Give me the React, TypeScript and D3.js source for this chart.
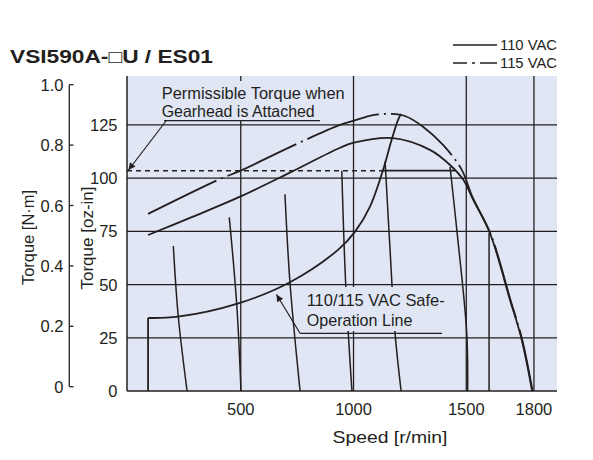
import React from "react";
import * as d3 from "d3";

// ---- data (speed r/min, torque oz-in) ----
const rpmTicks = [500, 1000, 1500, 1800];
const ozTicks = [0, 25, 50, 75, 100, 125];
const nmTicks = [0, 0.2, 0.4, 0.6, 0.8, 1.0];

const curve110: [number, number][] = [
  [89, 73.3], [288, 81.9], [497, 91.3], [718, 102.6], [940, 114.3], [1002, 116.7],
  [1175, 118.8], [1339, 113.3], [1428, 106.2], [1487, 99.2], [1531, 89.8],
  [1605, 74.1], [1694, 42.8], [1746, 24], [1792, 0],
];
const curve115: [number, number][] = [
  [89, 83.2], [408, 99.6], [497, 103.4], [718, 114.6], [940, 125], [1002, 127],
  [1087, 129.6], [1171, 130.2], [1228, 129.2], [1308, 124.2], [1397, 115.6],
  [1480, 103.9], [1527, 91.2], [1607, 74.1], [1696, 42.8], [1748, 24], [1794, 0],
];
const safeVertical: [number, number][] = [[89, 0], [89, 34.3]];
const safeLine: [number, number][] = [
  [89, 34.3], [222, 34.9], [482, 40.9], [718, 51.1], [931, 66.3], [1007, 74.9],
  [1073, 86.6], [1131, 103.9], [1169, 118], [1197, 127.3], [1211, 130.2],
];
const loadLines: [number, number][][] = [
  [[201, 68.1], [223, 34.9], [262, 0]],
  [[449, 81.6], [482, 40.9], [501, 0]],
  [[696, 92.4], [718, 51.2], [763, 0]],
  [[948, 103.5], [965, 50.8], [993, 0]],
  [[1140, 107.8], [1162, 66.3], [1184, 27.3], [1211, 0]],
  [[1428, 105.3], [1458, 75.7], [1502, 27.3], [1506, 0]],
  [[1601, 74.2], [1601, 0]],
];
const permissibleTorque = 103.5;
const permissibleDashedEnd = 1131;
const permissibleSolidEnd = 1450;

export default function App() {
  const W = 593, H = 460;
  const L = 127, R = 557, T = 76, B = 391;
  const x = d3.scaleLinear().domain([0, 1900]).range([128, 556.5]);
  const y = d3.scaleLinear().domain([0, 148]).range([B, T]);
  const yNm = d3.scaleLinear().domain([0, 1]).range([386.7, 84.7]);

  const smooth = d3.line<[number, number]>().x(d => x(d[0])).y(d => y(d[1])).curve(d3.curveCatmullRom.alpha(0.5));
  const straight = d3.line<[number, number]>().x(d => x(d[0])).y(d => y(d[1]));

  const ink = "#231f20";
  const bg = "#e1e6f5";
  const font = "'Liberation Sans Narrow', 'Liberation Sans', Arial, sans-serif";
  const font2 = "'Liberation Sans', Arial, sans-serif";

  return (
    <svg width={W} height={H} style={{ position: "absolute", left: 0, top: 0, background: "#fff" }}>
      <defs>
        <marker id="arr" viewBox="0 0 10 10" refX="10" refY="5" markerWidth="9" markerHeight="7" orient="auto" markerUnits="userSpaceOnUse">
          <path d="M0,0 L10,5 L0,10 z" fill={ink} />
        </marker>
      </defs>
      {/* title */}
      <text x={10} y={63} fontFamily={font2} fontWeight="bold" fontSize={18} fill={ink} textLength={203} lengthAdjust="spacingAndGlyphs">VSI590A-□U / ES01</text>

      {/* legend */}
      <line x1={453} x2={497} y1={45} y2={45} stroke={ink} strokeWidth={1.5} />
      <text x={500} y={49.5} fontFamily={font} fontSize={14} fill={ink} textLength={57} lengthAdjust="spacingAndGlyphs">110 VAC</text>
      <line x1={453} x2={497} y1={63} y2={63} stroke={ink} strokeWidth={1.5} strokeDasharray="14 5 3 5 17" />
      <text x={500} y={67.5} fontFamily={font} fontSize={14} fill={ink} textLength={57} lengthAdjust="spacingAndGlyphs">115 VAC</text>

      {/* plot background */}
      <rect x={L} y={T} width={R - L} height={B - T} fill={bg} />

      {/* grid */}
      {ozTicks.filter(t => t > 0).map(t => (
        <line key={"h" + t} x1={L} x2={R} y1={y(t)} y2={y(t)} stroke={ink} strokeWidth={1.3} />
      ))}
      {rpmTicks.map(t => (
        <line key={"v" + t} x1={x(t)} x2={x(t)} y1={T} y2={B} stroke={ink} strokeWidth={1.3} />
      ))}

      {/* permissible torque */}
      <line x1={L} x2={x(permissibleDashedEnd)} y1={y(permissibleTorque)} y2={y(permissibleTorque)} stroke={ink} strokeWidth={1.6} strokeDasharray="5 4" />
      <line x1={x(permissibleDashedEnd)} x2={x(permissibleSolidEnd)} y1={y(permissibleTorque)} y2={y(permissibleTorque)} stroke={ink} strokeWidth={1.8} />

      {/* load lines */}
      {loadLines.map((ln, i) => (
        <path key={"l" + i} d={smooth(ln) || ""} fill="none" stroke={ink} strokeWidth={1.5} />
      ))}

      {/* torque curves */}
      <path d={smooth(curve110) || ""} fill="none" stroke={ink} strokeWidth={1.8} />
      <path d={smooth(curve115) || ""} fill="none" stroke={ink} strokeWidth={1.8} strokeDasharray="76 5 2 5" />

      {/* safe operation line */}
      <path d={straight(safeVertical) || ""} fill="none" stroke={ink} strokeWidth={1.8} />
      <path d={smooth(safeLine) || ""} fill="none" stroke={ink} strokeWidth={1.8} />

      {/* annotation: permissible */}
      <rect x={157} y={81} width={192} height={39} fill={bg} />
      <text x={161.7} y={99} fontFamily={font} fontSize={16.5} fill={ink} textLength={183} lengthAdjust="spacingAndGlyphs">Permissible Torque when</text>
      <text x={161.7} y={117} fontFamily={font} fontSize={16.5} fill={ink} textLength={153} lengthAdjust="spacingAndGlyphs">Gearhead is Attached</text>
      <line x1={164} x2={320} y1={120.7} y2={120.7} stroke={ink} strokeWidth={1.3} />
      <line x1={166} y1={121} x2={128.5} y2={170} stroke={ink} strokeWidth={1.2} markerEnd="url(#arr)" />

      {/* annotation: safe operation */}
      <rect x={302} y={287} width={145} height={44} fill={bg} />
      <text x={306.7} y={306} fontFamily={font} fontSize={17} fill={ink} textLength={138} lengthAdjust="spacingAndGlyphs">110/115 VAC Safe-</text>
      <text x={306.7} y={326} fontFamily={font} fontSize={17} fill={ink} textLength={105.7} lengthAdjust="spacingAndGlyphs">Operation Line</text>
      <line x1={300} x2={442} y1={333.3} y2={333.3} stroke={ink} strokeWidth={1.3} />
      <line x1={300} y1={333.3} x2={276.5} y2={294.5} stroke={ink} strokeWidth={1.2} markerEnd="url(#arr)" />

      {/* axes */}
      <line x1={L} x2={L} y1={T} y2={B} stroke={ink} strokeWidth={1.5} />
      <line x1={L} x2={R} y1={B} y2={B} stroke={ink} strokeWidth={1.5} />

      {/* x tick labels */}
      {rpmTicks.map(t => (
        <text key={"xt" + t} x={x(t)} y={415} textAnchor="middle" fontFamily={font2} fontSize={16.5} fill={ink}>{t}</text>
      ))}
      <text x={390} y={443} textAnchor="middle" fontFamily={font} fontSize={17} fill={ink} textLength={115} lengthAdjust="spacingAndGlyphs">Speed [r/min]</text>

      {/* oz-in tick labels */}
      {ozTicks.map(t => (
        <text key={"oz" + t} x={117.5} y={y(t) + 6} textAnchor="end" fontFamily={font2} fontSize={16.5} fill={ink}>{t}</text>
      ))}
      <text transform={`translate(93,238) rotate(-90)`} textAnchor="middle" fontFamily={font} fontSize={17} fill={ink} textLength={103} lengthAdjust="spacingAndGlyphs">Torque [oz-in]</text>

      {/* N·m axis */}
      <line x1={69.3} x2={69.3} y1={yNm(1)} y2={yNm(0)} stroke={ink} strokeWidth={1.3} />
      {nmTicks.map(t => (
        <g key={"nm" + t}>
          <line x1={69.3} x2={73.5} y1={yNm(t)} y2={yNm(t)} stroke={ink} strokeWidth={1.3} />
          <text x={63.5} y={yNm(t) + 6} textAnchor="end" fontFamily={font2} fontSize={16.5} fill={ink}>{t === 0 ? "0" : t.toFixed(1)}</text>
        </g>
      ))}
      <text transform={`translate(34,237.5) rotate(-90)`} textAnchor="middle" fontFamily={font} fontSize={17} fill={ink} textLength={95} lengthAdjust="spacingAndGlyphs">Torque [N·m]</text>
    </svg>
  );
}
